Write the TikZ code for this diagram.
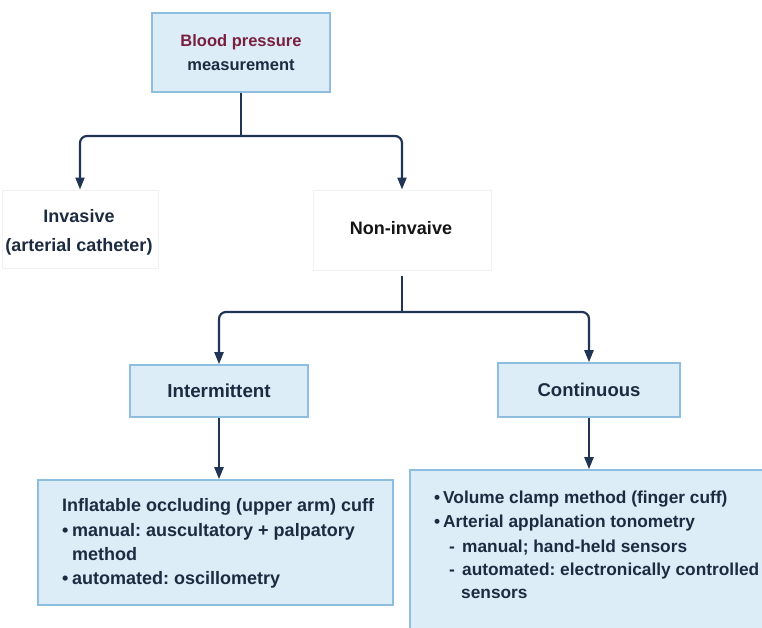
\documentclass[tikz,border=0pt]{standalone}
\usepackage{fontspec}
\setmainfont{Liberation Sans}
\usetikzlibrary{arrows.meta}
\definecolor{ink}{HTML}{1C2B40}
\definecolor{boxfill}{HTML}{DCEDF8}
\definecolor{boxline}{HTML}{8DBEE0}
\definecolor{wine}{HTML}{7A1E3E}
\definecolor{arrowc}{HTML}{1F3553}
\definecolor{faint}{HTML}{F0F1F3}
\definecolor{nearblack}{HTML}{151515}
\frenchspacing
\begin{document}
\begin{tikzpicture}[x=1pt,y=-1pt,
  bluebox/.style={draw=boxline, fill=boxfill, line width=1.6pt, inner sep=0pt},
  faintbox/.style={draw=faint, line width=1pt, inner sep=0pt},
  conn/.style={draw=arrowc, line width=2.2pt},
  arr/.style={conn, rounded corners=7pt, -{Triangle[length=12pt,width=9pt]}},
  lbl/.style={font=\bfseries\fontsize{18}{24}\selectfont, text=ink, align=center, inner sep=0pt},
  item/.style={font=\bfseries\fontsize{18}{24}\selectfont, text=ink, anchor=base west, inner sep=0pt},
  itemr/.style={font=\bfseries\fontsize{17.3}{24}\selectfont, text=ink, anchor=base west, inner sep=0pt},
]
\useasboundingbox (0,0) rectangle (762,627);
\clip (0,0) rectangle (762,627);
\fill[white] (0,0) rectangle (762,627);

% top box
\node[bluebox, minimum width=178pt, minimum height=79pt] (top) at (241,52.5) {};
\node[font=\bfseries\fontsize{16.5}{24}\selectfont, align=center, inner sep=0pt] (toptxt) at (top)
  {\textcolor{wine}{Blood pressure}\\\textcolor{ink}{measurement}};

% invasive / non-invasive
\node[faintbox, minimum width=156pt, minimum height=78pt] (inv) at (80,229) {};
\node[lbl, font=\bfseries\fontsize{18}{29}\selectfont] (invtxt) at (79,232) {Invasive\\(arterial catheter)};
\node[faintbox, minimum width=178pt, minimum height=80pt] (non) at (402,230) {};
\node[lbl, text=nearblack] (nontxt) at (401,228) {Non-invaive};

% intermittent / continuous
\node[bluebox, minimum width=178pt, minimum height=52pt] (int) at (219,391) {};
\node[lbl, font=\bfseries\fontsize{18.8}{24}\selectfont] (inttxt) at (int) {Intermittent};
\node[bluebox, minimum width=182pt, minimum height=54pt] (cont) at (589,390) {};
\node[lbl, font=\bfseries\fontsize{18.5}{24}\selectfont] (conttxt) at (cont) {Continuous};

% bottom boxes
\node[bluebox, minimum width=355pt, minimum height=125pt] (bl) at (215.5,542.5) {};
\node[bluebox, minimum width=365pt, minimum height=175pt] (br) at (592.5,557.5) {};

\node[item] (bl1) at (62,511) {Inflatable occluding (upper arm) cuff};
\node[item] (bl2b) at (62,536) {•};
\node[item] (bl2) at (72,536) {manual: auscultatory + palpatory};
\node[item] (bl3) at (72,560) {method};
\node[item] (bl4b) at (62,584) {•};
\node[item] (bl4) at (72,584) {automated: oscillometry};

\node[itemr] (br1b) at (434,503) {•};
\node[itemr] (br1) at (443,503) {Volume clamp method (finger cuff)};
\node[itemr] (br2b) at (434,527) {•};
\node[itemr] (br2) at (443,527) {Arterial applanation tonometry};
\node[itemr] (br3b) at (449,552) {-};
\node[itemr] (br3) at (462,552) {manual; hand-held sensors};
\node[itemr] (br4b) at (449,575) {-};
\node[itemr] (br4) at (462,575) {automated: electronically controlled};
\node[itemr] (br5) at (461,598) {sensors};

% connectors
\coordinate (j1) at (241,136);
\coordinate (j2) at (402,312);
\draw[conn] (top.south) -- (j1);
\draw[arr] (j1) -| (inv.north);
\draw[arr] (j1) -| (non.north);
\draw[conn] ([yshift=-5pt]non.south) -- (j2);
\draw[arr] (j2) -| (int.north);
\draw[arr] (j2) -| (cont.north);
\draw[arr] (int.south) -- (int.south |- bl.north);
\draw[arr] (cont.south) -- (cont.south |- br.north);
\end{tikzpicture}
\end{document}
